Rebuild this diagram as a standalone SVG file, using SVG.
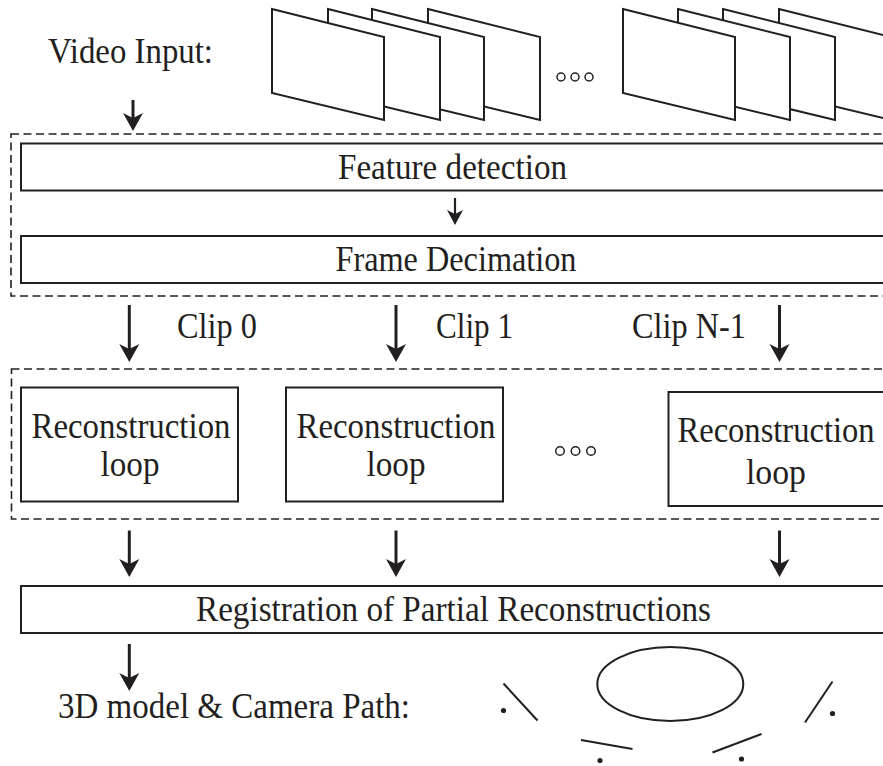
<svg xmlns="http://www.w3.org/2000/svg" width="883" height="766" viewBox="0 0 883 766">
  <style>
    .t { font-family: "Liberation Serif", "Times New Roman", serif; font-size: 36px; fill: #231f20; }
    .mid { text-anchor: middle; }
    .box { fill: #ffffff; stroke: #231f20; stroke-width: 2; }
    .dash { fill: none; stroke: #231f20; stroke-width: 1.6; stroke-dasharray: 8 4.5; }
    .frame { fill: #ffffff; stroke: #231f20; stroke-width: 2; stroke-linejoin: miter; }
    .dots circle { fill: none; stroke: #231f20; stroke-width: 1.5; }
    .shaft { stroke: #231f20; stroke-width: 3; fill: none; }
    .shaft.thin { stroke-width: 2.2; }
    .head { fill: #231f20; }
    .cam line { stroke: #231f20; stroke-width: 2; }
    .cam circle { fill: #231f20; }
  </style>
  <defs>
    <!-- one video frame, drawn at its own origin -->
    <path id="frm" class="frame" d="M0,9 L112,37 L112,120 L0,93 Z"/>
    <!-- arrowheads with the tip at 0,0 -->
    <path id="hd" class="head" d="M0,0 L-10,-18 L0,-13 L10,-18 Z"/>
    <path id="hdS" class="head" d="M0,0 L-8,-15 L0,-11 L8,-15 Z"/>
  </defs>

  <rect width="883" height="766" fill="#ffffff"/>

  <!-- input frames -->
  <g id="frames-a">
    <use href="#frm" x="428"/>
    <use href="#frm" x="372"/>
    <use href="#frm" x="328"/>
    <use href="#frm" x="272"/>
  </g>
  <g id="dots-top" class="dots">
    <circle cx="561" cy="77" r="4"/>
    <circle cx="575" cy="77" r="4"/>
    <circle cx="589" cy="77" r="4"/>
  </g>
  <g id="frames-b">
    <use href="#frm" x="779"/>
    <use href="#frm" x="723"/>
    <use href="#frm" x="678"/>
    <use href="#frm" x="623"/>
  </g>

  <g id="video-input">
    <text class="t" x="48" y="63" textLength="165" lengthAdjust="spacingAndGlyphs">Video Input:</text>
  </g>

  <!-- preprocessing stage -->
  <g id="stage-pre">
    <rect class="dash" x="11" y="134" width="890" height="162"/>
  </g>
  <g id="feature-detection">
    <rect class="box" x="21" y="143.5" width="880" height="47"/>
    <text class="t mid" x="452.5" y="179" textLength="229" lengthAdjust="spacingAndGlyphs">Feature detection</text>
  </g>
  <g id="frame-decimation">
    <rect class="box" x="21" y="236" width="880" height="47"/>
    <text class="t mid" x="456" y="271" textLength="241" lengthAdjust="spacingAndGlyphs">Frame Decimation</text>
  </g>

  <!-- clip labels -->
  <g id="clip-labels">
    <text class="t" x="177" y="338" textLength="80" lengthAdjust="spacingAndGlyphs">Clip 0</text>
    <text class="t" x="436" y="338" textLength="77" lengthAdjust="spacingAndGlyphs">Clip 1</text>
    <text class="t" x="632" y="338" textLength="114" lengthAdjust="spacingAndGlyphs">Clip N-1</text>
  </g>

  <!-- reconstruction stage -->
  <g id="stage-recon">
    <rect class="dash" x="11.5" y="369" width="890" height="150"/>
  </g>
  <g id="recon-0">
    <rect class="box" x="21" y="387.5" width="217" height="114"/>
    <text class="t mid" x="131" y="438" textLength="199" lengthAdjust="spacingAndGlyphs">Reconstruction</text>
    <text class="t mid" x="130" y="476" textLength="59" lengthAdjust="spacingAndGlyphs">loop</text>
  </g>
  <g id="recon-1">
    <rect class="box" x="286" y="387.5" width="217" height="114"/>
    <text class="t mid" x="396" y="438" textLength="199" lengthAdjust="spacingAndGlyphs">Reconstruction</text>
    <text class="t mid" x="396" y="476" textLength="59" lengthAdjust="spacingAndGlyphs">loop</text>
  </g>
  <g id="dots-mid" class="dots">
    <circle cx="560" cy="451" r="4.3"/>
    <circle cx="575.5" cy="451" r="4.3"/>
    <circle cx="591" cy="451" r="4.3"/>
  </g>
  <g id="recon-n">
    <rect class="box" x="668.5" y="392" width="230" height="114"/>
    <text class="t mid" x="776" y="442" textLength="197" lengthAdjust="spacingAndGlyphs">Reconstruction</text>
    <text class="t mid" x="776" y="484" textLength="60" lengthAdjust="spacingAndGlyphs">loop</text>
  </g>

  <!-- registration -->
  <g id="registration">
    <rect class="box" x="21" y="586" width="880" height="47"/>
    <text class="t mid" x="453.5" y="621" textLength="515" lengthAdjust="spacingAndGlyphs">Registration of Partial Reconstructions</text>
  </g>

  <g id="output-label">
    <text class="t" x="58" y="718" textLength="352" lengthAdjust="spacingAndGlyphs">3D model &amp; Camera Path:</text>
  </g>

  <!-- reconstructed scene and camera path -->
  <g id="scene" class="cam">
    <ellipse cx="670.3" cy="684" rx="73" ry="37" fill="none" stroke="#231f20" stroke-width="2"/>
    <line x1="503.5" y1="683.5" x2="537.5" y2="720.5"/>
    <circle cx="503.5" cy="710.5" r="2.6"/>
    <line x1="581" y1="740" x2="632.5" y2="749"/>
    <circle cx="600" cy="760.5" r="2.6"/>
    <line x1="712.5" y1="752.5" x2="761.5" y2="734"/>
    <circle cx="741.5" cy="759" r="2.6"/>
    <line x1="805" y1="722.5" x2="832.5" y2="681.5"/>
    <circle cx="832.5" cy="713.5" r="2.6"/>
  </g>

  <!-- connectors -->
  <g id="connectors">
    <line class="shaft" x1="133" y1="100" x2="133" y2="119"/>
    <use href="#hd" x="133" y="131"/>

    <line class="shaft thin" x1="455" y1="198" x2="455" y2="215"/>
    <use href="#hdS" x="455" y="225"/>

    <line class="shaft" x1="129.3" y1="305" x2="129.3" y2="350"/>
    <use href="#hd" x="129.3" y="362"/>
    <line class="shaft" x1="396" y1="305" x2="396" y2="350"/>
    <use href="#hd" x="396" y="362"/>
    <line class="shaft" x1="779.5" y1="305" x2="779.5" y2="350"/>
    <use href="#hd" x="779.5" y="362"/>

    <line class="shaft" x1="129.3" y1="530.5" x2="129.3" y2="565"/>
    <use href="#hd" x="129.3" y="577"/>
    <line class="shaft" x1="396" y1="530.5" x2="396" y2="565"/>
    <use href="#hd" x="396" y="577"/>
    <line class="shaft" x1="779.5" y1="530.5" x2="779.5" y2="565"/>
    <use href="#hd" x="779.5" y="577"/>

    <line class="shaft" x1="129.3" y1="644" x2="129.3" y2="679"/>
    <use href="#hd" x="129.3" y="691"/>
  </g>
</svg>
